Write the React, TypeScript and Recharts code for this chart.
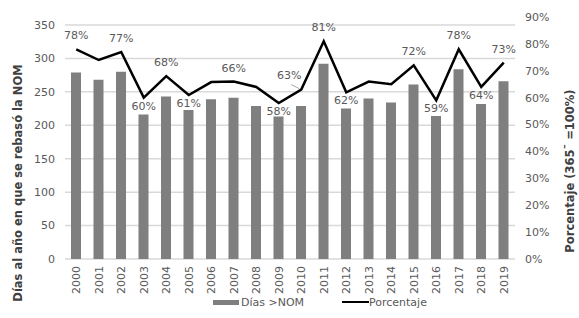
import { ComposedChart, Bar, Line, XAxis, YAxis, CartesianGrid, Legend, LabelList } from "recharts";

const years = ["2000", "2001", "2002", "2003", "2004", "2005", "2006", "2007", "2008", "2009",
  "2010", "2011", "2012", "2013", "2014", "2015", "2016", "2017", "2018", "2019"];
const diasNom = [279, 268, 280, 216, 243, 223, 239, 241, 229, 213, 229, 292, 225, 240, 234, 261, 214, 284, 232, 266];
const porcentaje = [78, 74, 77, 60, 68, 61, 65.8, 66, 64, 58, 63, 81, 62, 66, 65, 72, 59, 78, 64, 73];
const etiquetas = ["78%", null, "77%", "60%", "68%", "61%", null, "66%", null, "58%",
  "63%", "81%", "62%", null, null, "72%", "59%", "78%", "64%", "73%"];
const leftTicks = [0, 50, 100, 150, 200, 250, 300, 350];
const rightTicks = [0, 10, 20, 30, 40, 50, 60, 70, 80, 90];

const data = years.map((y, i) => ({ year: y, dias: diasNom[i], pct: porcentaje[i], etiqueta: etiquetas[i] }));

const font = "'DejaVu Sans', sans-serif";
const textGray = "#595959";
const tickStyle = { fill: textGray, fontSize: 11, fontFamily: font };

function isLocalMin(i: number) {
  const prev = i > 0 ? porcentaje[i - 1] : Infinity;
  const next = i < porcentaje.length - 1 ? porcentaje[i + 1] : Infinity;
  return porcentaje[i] < prev && porcentaje[i] < next;
}

function PctLabel(props: any) {
  const { x, y, value, index } = props;
  if (value == null) return null;
  if (years[index] === "2010") {
    return (
      <g>
        <line x1={x - 10} y1={y - 5} x2={x - 2} y2={y - 1} stroke="#a6a6a6" strokeWidth={1} />
        <text x={x - 12} y={y - 11} textAnchor="middle" {...tickStyle}>{value}</text>
      </g>
    );
  }
  const below = isLocalMin(index);
  return (
    <text x={x} y={below ? y + 12 : y - 10} textAnchor="middle" {...tickStyle}>
      {value}
    </text>
  );
}

function YearTick(props: any) {
  const { x, y, payload } = props;
  const ty = y + 5;
  return (
    <text x={x + 4} y={ty} transform={`rotate(-90 ${x + 4} ${ty})`} textAnchor="end" {...tickStyle}>
      {payload.value}
    </text>
  );
}

function LegendContent() {
  return (
    <div style={{ position: "relative", height: 20, width: 579, fontFamily: font, fontSize: 11, color: textGray, lineHeight: "13px" }}>
      <div style={{ position: "absolute", left: 213, top: 1.5, width: 26, height: 5, background: "#7f7f7f" }} />
      <div style={{ position: "absolute", left: 241, top: -2.5 }}>Días &gt;NOM</div>
      <div style={{ position: "absolute", left: 342, top: 3, width: 27, height: 2, background: "#000" }} />
      <div style={{ position: "absolute", left: 369, top: -2.5 }}>Porcentaje</div>
    </div>
  );
}

export default function App() {
  return (
    <div style={{ position: "absolute", left: 0, top: 0, width: 579, height: 318, background: "#fff" }}>
      <ComposedChart width={579} height={318} data={data} margin={{ top: 25, right: 0, bottom: 0, left: 0 }}>
        <CartesianGrid vertical={false} yAxisId="left" stroke="#d9d9d9" strokeWidth={1.5} />
        <XAxis
          dataKey="year"
          axisLine={false}
          tickLine={false}
          tickSize={0}
          tickMargin={2}
          interval={0}
          height={39}
          tick={<YearTick />}
        />
        <YAxis
          yAxisId="left"
          domain={[0, 350]}
          ticks={leftTicks}
          width={65}
          axisLine={false}
          tickLine={false}
          tickSize={0}
          tickMargin={10}
          tick={tickStyle}
          label={{
            content: () => (
              <text
                x={22}
                y={183}
                transform="rotate(-90 22 183)"
                textAnchor="middle"
                fill="#404040"
                fontSize={11.5}
                fontWeight="bold"
                fontFamily={font}
              >
                Días  al año en que se rebasó la NOM
              </text>
            ),
          }}
        />
        <YAxis
          yAxisId="right"
          orientation="right"
          domain={[0, 90]}
          ticks={rightTicks}
          padding={{ top: -8, bottom: 0 }}
          width={64}
          axisLine={false}
          tickLine={false}
          tickSize={0}
          tickMargin={10}
          tick={tickStyle}
          tickFormatter={(v: number) => `${v}%`}
          label={{
            content: () => (
              <text
                x={574}
                y={171}
                transform="rotate(-90 574 171)"
                textAnchor="middle"
                fill="#404040"
                fontSize={11.5}
                fontWeight="bold"
                fontFamily={font}
              >
                Porcentaje (365¯ =100%)
              </text>
            ),
          }}
        />
        <Legend verticalAlign="bottom" height={20} content={<LegendContent />} wrapperStyle={{ left: 0, width: 579 }} />
        <Bar yAxisId="left" dataKey="dias" name="Días >NOM" fill="#7f7f7f" barSize={10} isAnimationActive={false} />
        <Line
          yAxisId="right"
          type="linear"
          dataKey="pct"
          name="Porcentaje"
          stroke="#000"
          strokeWidth={2.5}
          dot={false}
          isAnimationActive={false}
        >
          <LabelList dataKey="etiqueta" content={<PctLabel />} />
        </Line>
      </ComposedChart>
    </div>
  );
}
